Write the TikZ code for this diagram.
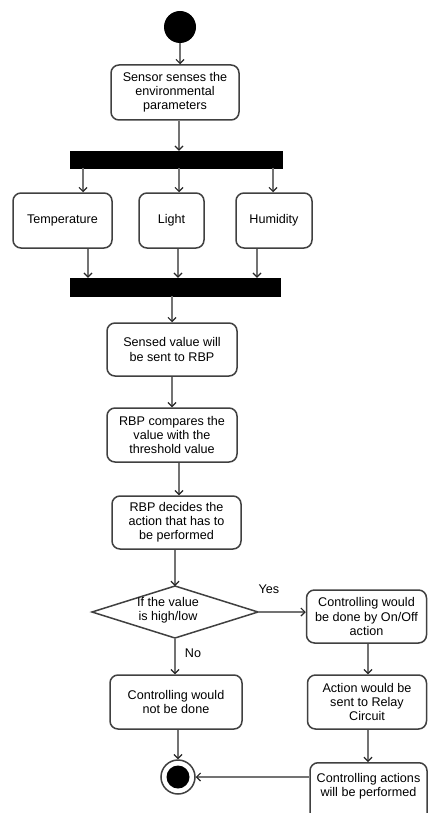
\documentclass[tikz,border=0pt]{standalone}
\usepackage{fontspec}
\setmainfont{Liberation Sans}
\usetikzlibrary{arrows.meta,shapes.geometric,calc}
\begin{document}
\begin{tikzpicture}[x=1pt,y=-1pt,
  font=\fontsize{12.6}{14.2}\selectfont,
  actbox/.style={draw=black!75, line width=1.5pt, rounded corners=8pt, fill=white, align=center, inner sep=2pt},
  barbox/.style={fill=black, draw=black, inner sep=0pt},
  arr/.style={draw=black!55, line width=1.3pt, -{Straight Barb[length=4pt,width=8pt,color=black!85,line width=1.2pt]}},
]
\useasboundingbox (0,0) rectangle (428,813);

\node[circle, fill=black, minimum size=32pt, inner sep=0pt] (start) at (180,27) {};

\node[actbox, minimum width=128pt, minimum height=55pt] (sensor) at (175,92.5) {Sensor senses the\\environmental\\parameters};

\node[barbox, minimum width=212pt, minimum height=17pt] (bar1) at (176,159.5) {};

\node[actbox, minimum width=99pt, minimum height=55pt] (temp) at (62.5,220.5) {Temperature};
\node[actbox, minimum width=65pt, minimum height=55pt] (light) at (171.5,220.5) {Light};
\node[actbox, minimum width=76pt, minimum height=55pt] (humid) at (274,220.5) {Humidity};

\node[barbox, minimum width=210pt, minimum height=18pt] (bar2) at (175,287) {};

\node[actbox, minimum width=130pt, minimum height=53pt] (sensed) at (172,349.5) {Sensed value will\\be sent to RBP};
\node[actbox, minimum width=130pt, minimum height=54pt] (compare) at (172,435) {RBP compares the\\value with the\\threshold value};
\node[actbox, minimum width=129pt, minimum height=53pt] (decide) at (176.5,522.5) {RBP decides the\\action that has to\\be performed};

\path[draw=black!75, line width=1.5pt, fill=white] (92,612) -- (175,586) -- (258,612) -- (175,638) -- cycle;
\node[align=center, inner sep=0pt] (dectext) at (168,610) {If the value\\is high/low};
\coordinate (decL) at (92,612);
\coordinate (decR) at (258,612);
\coordinate (decT) at (175,586);
\coordinate (decB) at (175,638);

\node[actbox, minimum width=120pt, minimum height=53pt] (onoff) at (366.5,616.5) {Controlling would\\be done by On/Off\\action};
\node[actbox, minimum width=132pt, minimum height=54pt] (notdone) at (176,702) {Controlling would\\not be done};
\node[actbox, minimum width=119pt, minimum height=54pt] (relay) at (367,702) {Action would be\\sent to Relay\\Circuit};
\node[actbox, minimum width=117pt, minimum height=60pt, anchor=north] (ctrl) at (368.5,762) {};
\node[align=center, inner sep=0pt] (ctrltext) at (368.5,786) {Controlling actions\\will be performed};

\node[circle, draw=black!75, line width=1.5pt, fill=white, minimum size=34pt, inner sep=0pt] (final) at (178,777) {};
\node[circle, fill=black, minimum size=23pt, inner sep=0pt] (finalin) at (178,777) {};

\node (yes) at (269,589) {Yes};
\node (no) at (193,653) {No};

\coordinate (x1) at (83,0);
\coordinate (x2) at (179,0);
\coordinate (x3) at (273,0);
\coordinate (y1) at (88,0);
\coordinate (y2) at (178,0);
\coordinate (y3) at (257,0);
\coordinate (xr) at (368,0);

\draw[arr] (start) -- (start |- sensor.north);
\draw[arr] (sensor.south -| x2) -- (bar1.north -| x2);
\draw[arr] (bar1.south -| x1) -- (temp.north -| x1);
\draw[arr] (bar1.south -| x2) -- (light.north -| x2);
\draw[arr] (bar1.south -| x3) -- (humid.north -| x3);
\draw[arr] (temp.south -| y1) -- (bar2.north -| y1);
\draw[arr] (light.south -| y2) -- (bar2.north -| y2);
\draw[arr] (humid.south -| y3) -- (bar2.north -| y3);
\draw[arr] (bar2.south -| sensed) -- (sensed.north);
\draw[arr] (sensed) -- (compare);
\draw[arr] (compare.south -| x2) -- (decide.north -| x2);
\draw[arr] (decide.south -| decT) -- (decT);
\draw[arr] (decR) -- (onoff.west |- decR);
\draw[arr] (decB) -- (notdone.north -| decB);
\draw[arr] (onoff.south -| xr) -- (relay.north -| xr);
\draw[arr] (relay.south -| xr) -- (ctrl.north -| xr);
\draw[arr] (notdone.south -| final) -- (final.north);
\draw[arr] (ctrl.west |- final) -- (final.east);
\end{tikzpicture}
\end{document}
